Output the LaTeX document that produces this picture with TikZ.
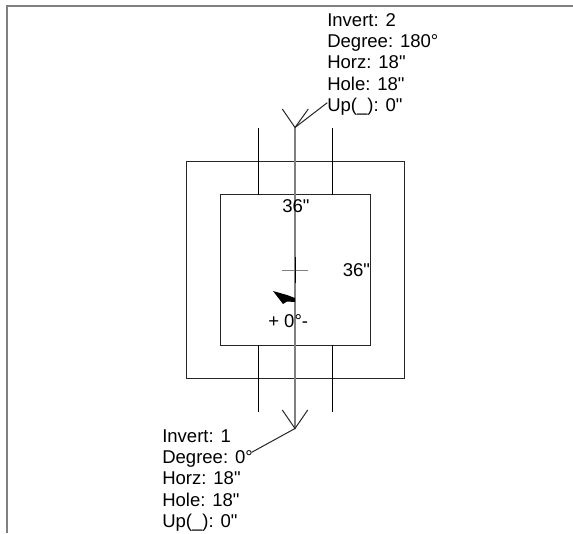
\documentclass[tikz,border=0pt]{standalone}
\usepackage{fontspec}
\setmainfont[Ligatures=TeXOff]{Liberation Sans}
\tikzset{
 px/.style={x=0.75pt,y=-0.75pt},
 frameline/.style={draw=black!50,line width=1.5pt},
 thin/.style={draw=black!85,line width=0.75pt},
 axisline/.style={draw=black!50,line width=1.5pt},
 lab/.style={inner sep=0pt,anchor=base west,font=\fontsize{13.9}{16}\selectfont},
 info/.style={inner sep=0pt,anchor=north west,align=left,font=\fontsize{13.9}{16}\selectfont},
}
\begin{document}
\begin{tikzpicture}[px]
\useasboundingbox (0,0) rectangle (573,533);
\fill[white] (0,0) rectangle (573,533);
\coordinate (fa) at (7,533);
\coordinate (fb) at (7,6);
\coordinate (fc) at (573,6);
\draw[frameline] (fa) -- (fb) -- (fc);
\node[draw=black!85,line width=0.75pt,minimum width=218*0.75pt,minimum height=217.5*0.75pt,inner sep=0pt] (outer) at (295,269.75) {};
\node[draw=black!85,line width=0.75pt,minimum width=150*0.75pt,minimum height=150.5*0.75pt,inner sep=0pt] (inner) at (295,269.75) {};
\coordinate (ltop) at (258,128); \coordinate (lbot) at (258,412);
\coordinate (rtop) at (332,128); \coordinate (rbot) at (332,412);
\coordinate (ctop) at (295,127.5); \coordinate (cbot) at (295,428.5);
\draw[thin,draw=black] (ltop) -- (258,194.5) (258,345) -- (lbot);
\draw[thin,draw=black] (rtop) -- (332,194.5) (332,345) -- (rbot);
\draw[axisline] (ctop) -- (cbot);
\draw[thin] (282.3,109) -- (ctop) -- (308.3,109);
\draw[thin] (282.3,410) -- (cbot) -- (307.7,410);
\draw[thin] (ctop) -- (327.3,102.7);
\draw[thin] (cbot) -- (251.7,452.3);
\draw[thin,draw=black!50] (282,270) -- (308,270);
\draw[thin,draw=black] (295,257) -- (295,283);
\fill[black] (295,298) -- (295,302) -- (287,301.5) -- (283,304) -- (273,291) -- (287,295) -- cycle;
\node[lab] (d1) at (282,212.5) {36"};
\node[lab] (d2) at (342.5,276) {36"};
\node[lab] (ang) at (268,327) {+ 0°-};
\node[info] (t1) at (327,13) {Invert: 2\\Degree: 180°\\Horz: 18"\\Hole: 18"\\Up(\_): 0"};
\node[info] (t2) at (162,429) {Invert: 1\\Degree: 0°\\Horz: 18"\\Hole: 18"\\Up(\_): 0"};
\end{tikzpicture}
\end{document}
